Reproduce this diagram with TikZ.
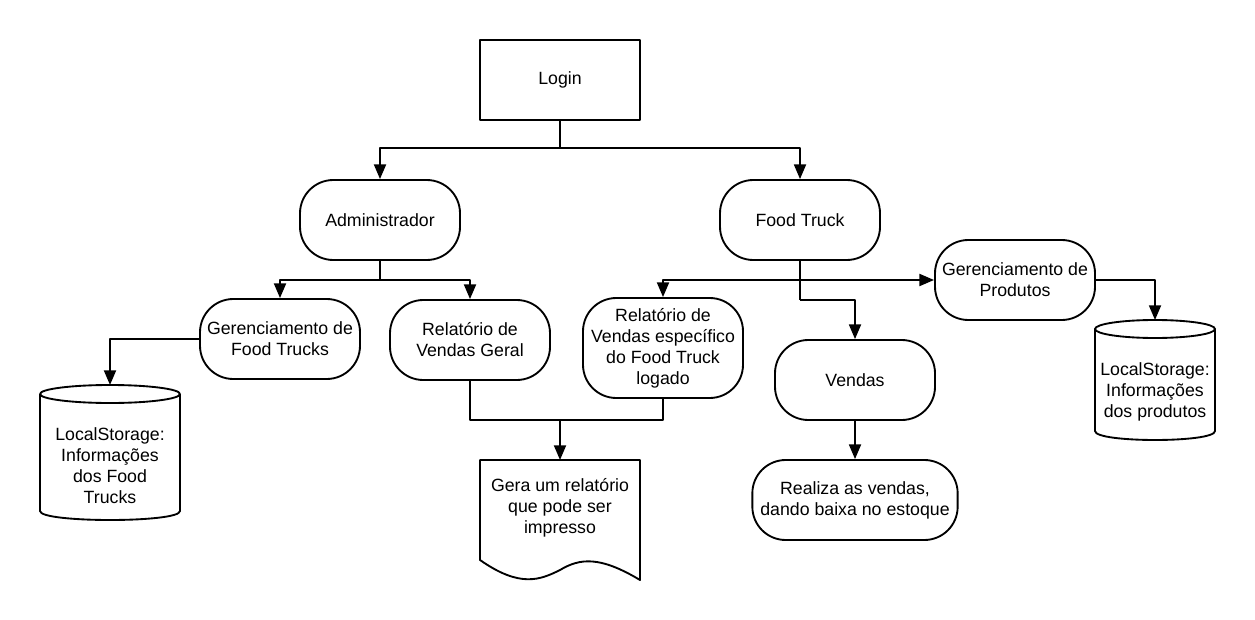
\documentclass[tikz,border=0pt]{standalone}
\usepackage{fontspec}
\setmainfont{Liberation Sans}
\usetikzlibrary{arrows.meta}

\tikzset{
  txt/.style={font=\fontsize{13.3}{15.75}\selectfont,align=center,inner sep=1pt},
  box/.style={txt,draw,line width=1.4pt,minimum width=120pt,minimum height=60pt},
  term/.style={box,rounded corners=25pt},
  link/.style={line width=1.4pt},
  conn/.style={link,->}
}

\begin{document}
\begin{tikzpicture}[x=0.75pt,y=-0.75pt,>={Triangle[width=9pt,length=11pt]},line join=round]
  \useasboundingbox (0,0) rectangle (1255,620);

  \node[box] (login) at (560,80) {Login};
  \node[term] (admin) at (380,220) {Administrador};
  \node[term] (ftruck) at (800,220) {Food Truck};
  \node[term] (gerft) at (280,339) {Gerenciamento de\\Food Trucks};
  \node[term] (relger) at (470,340) {Relatório de\\Vendas Geral};
  \node[term,minimum height=75pt] (relesp) at (663,348) {Relatório de\\Vendas específico\\do Food Truck\\logado};
  \node[term] (gerprod) at (1015,280) {Gerenciamento de\\Produtos};
  \node[term] (vendas) at (855,380) {Vendas};
  \node[term,minimum width=154pt] (realiza) at (855,500) {Realiza as vendas,\\dando baixa no estoque};

  \draw[link] (40,394) -- (40,511) .. controls (40,523) and (180,523) .. (180,511) -- (180,394);
  \draw[link] (110,394) ellipse [x radius=70,y radius=9];
  \node[txt] (dbft) at (110,466) {LocalStorage:\\Informações\\dos Food\\Trucks};
  \coordinate (dbfttop) at (110,385);

  \draw[link] (1095,329) -- (1095,431) .. controls (1095,443) and (1215,443) .. (1215,431) -- (1215,329);
  \draw[link] (1155,329) ellipse [x radius=60,y radius=9];
  \node[txt] (dbprod) at (1155,392) {LocalStorage:\\Informações\\dos produtos};
  \coordinate (dbprodtop) at (1155,320);

  \draw[link] (480,460) -- (640,460) -- (640,580)
    .. controls (600,556) and (580,558) .. (560,570)
    .. controls (540,580) and (520,588) .. (480,560) -- cycle;
  \node[txt] (doc) at (560,508) {Gera um relatório\\que pode ser\\impresso};
  \coordinate (doctop) at (560,460);

  \coordinate (split1) at (560,148);
  \coordinate (split2) at (380,280);
  \coordinate (split3) at (800,280);
  \coordinate (bend) at (800,300);
  \coordinate (join) at (560,420);

  \draw[link] (login.south) -- (split1);
  \draw[conn] (split1) -| (admin.north);
  \draw[conn] (split1) -| (ftruck.north);
  \draw[link] (admin.south) -- (split2);
  \draw[conn] (split2) -| (gerft.north);
  \draw[conn] (split2) -| (relger.north);
  \draw[conn] (gerft.west) -| (dbfttop);
  \draw[link] (relger.south) |- (join) -| (relesp.south);
  \draw[conn] (join) -- (doctop);
  \draw[link] (ftruck.south) -- (bend);
  \draw[conn] (bend) -| (vendas.north);
  \draw[conn] (split3) -| (relesp.north);
  \draw[conn] (split3) -- (gerprod.west);
  \draw[conn] (gerprod.east) -| (dbprodtop);
  \draw[conn] (vendas.south) -- (realiza.north);
\end{tikzpicture}
\end{document}
